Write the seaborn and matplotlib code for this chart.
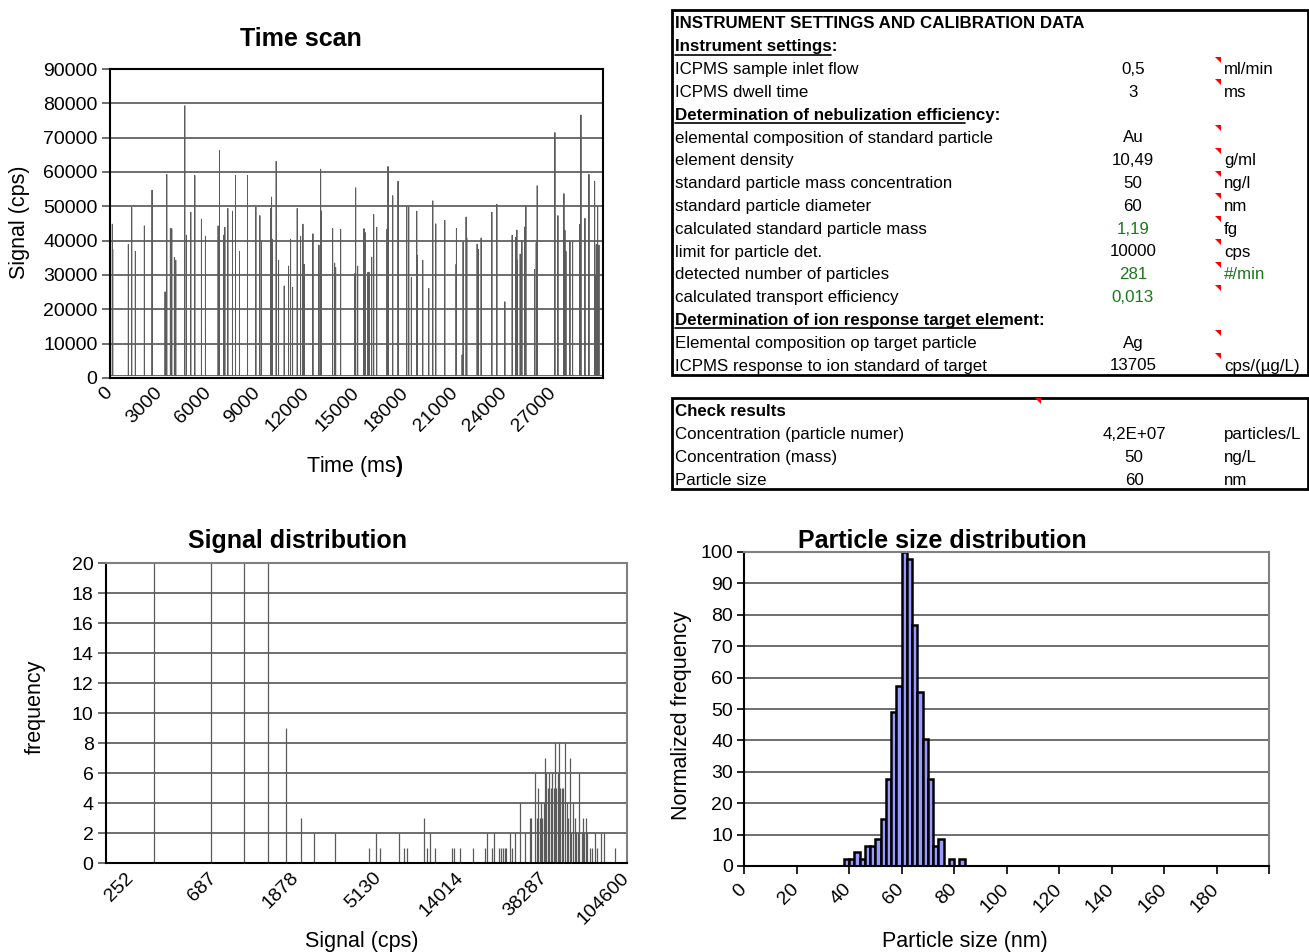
import numpy as np
import pandas as pd
import matplotlib
matplotlib.use("Agg")
import matplotlib.pyplot as plt
from matplotlib.lines import Line2D
from matplotlib.patches import Rectangle, Polygon
import seaborn as sns

# ---- time scan: spikes (ms, cps) ----
spike_time_ms = [142, 165, 1117, 1320, 1544, 2092, 2559, 3351, 3392, 3453, 3676, 3757, 3920, 4001,
                 4549, 4651, 4915, 5159, 5565, 5809, 6580, 6662, 6926, 6987, 7169, 7454, 7637, 7880,
                 8368, 8875, 9119, 9221, 9789, 9830, 9871, 10114, 10257, 10602, 10866, 10988, 11110,
                 11394, 11597, 11739, 11820, 12348, 12714, 12816, 12836, 13547, 13669, 13730, 14034,
                 14908, 14948, 15070, 15436, 15456, 15517, 15700, 15761, 15923, 16045, 16228, 16857,
                 16918, 17203, 17528, 18056, 18177, 18340, 18665, 18685, 19030, 19396, 19640, 19823,
                 20371, 21061, 21082, 21427, 21488, 21670, 21711, 22341, 22402, 22585, 23235, 23539,
                 24027, 24474, 24677, 24758, 24799, 24961, 25063, 25245, 25306, 25834, 25936, 25997,
                 27073, 27256, 27622, 27683, 27744, 27987, 28150, 28576, 28657, 28901, 29145, 29490,
                 29531, 29592, 29673, 29754]
spike_signal = [44800, 37500, 38900, 49700, 36900, 44300, 54700, 25100, 16000, 59300, 43500, 43500, 35100, 34300,
                79300, 41600, 48300, 59000, 46300, 41300, 44300, 66200, 41600, 43900, 49400, 48600, 59000, 36900,
                59000, 49800, 47300, 39800, 49400, 52700, 40400, 63100, 34300, 26800, 32600, 40400, 26400,
                49400, 41300, 44800, 33100, 42000, 38700, 60800, 48700, 43500, 33500, 32200, 43300,
                30500, 55400, 32600, 34300, 43500, 42400, 30800, 30800, 35200, 47600, 43900, 43300,
                61600, 53100, 57300, 50000, 49900, 29300, 48600, 35700, 34300, 26100, 51600, 44900,
                45900, 33100, 43500, 6700, 39700, 46900, 40800, 39000, 37500, 40800, 48300, 50600,
                22200, 41600, 40900, 43100, 34300, 36100, 40100, 44000, 50200, 31600, 39400, 56000,
                71500, 47300, 53700, 43000, 36900, 39800, 39700, 44700, 76600, 46500, 59300, 57300,
                29500, 38900, 49900, 38700]
background_cps = 700
dwell_ms = 3
scan_end_ms = 29997
time_ticks = list(range(0, 30000, 3000))

# ---- signal distribution (log-spaced bins) ----
signal_bins_cps = [333, 667, 1000, 1333, 1667, 2000, 2333, 3000, 4573, 4949, 5219, 6593, 6932, 7222,
                   8900, 9226, 9580, 10198, 12521, 12782, 13818, 16213, 18786, 19184, 20407, 20910,
                   22060, 22604, 23180, 23671, 24163, 25156, 25794, 26767, 28744, 30543, 32300, 32855,
                   34330, 35041, 35773, 36474, 37102, 37551, 38158, 38765, 39424, 40198, 40888, 41537,
                   42405, 43085, 43775, 44518, 45396, 46170, 46735, 47656, 48472, 49424, 50459, 51505,
                   52520, 53419, 54737, 55605, 56766, 57666, 58879, 60542, 61505, 62561, 63555, 64883,
                   66965, 68618, 70908, 72645, 76923, 79098, 91075]
signal_freq = [8000, 950, 120, 35, 9, 3, 2, 2, 1, 2, 1, 2, 1, 1,
               3, 1, 2, 1, 1, 1, 1, 1, 1, 2, 1, 2,
               1, 1, 1, 1, 1, 2, 1, 2, 4, 2, 3, 3,
               6, 3, 5, 3, 4, 3, 4, 7, 6, 5, 6, 5,
               6, 5, 8, 5, 6, 8, 5, 5, 5, 8, 4, 3,
               7, 2, 4, 3, 2, 2, 6, 2, 3, 2, 3, 2,
               1, 1, 2, 1, 2, 2, 1]
signal_ticks = [252, 687, 1878, 5130, 14014, 38287, 104600]

# ---- particle size distribution ----
size_bin_nm = [38, 40, 42, 44, 46, 48, 50, 52, 54, 56, 58, 60, 62, 64, 66, 68, 70, 72, 74, 76, 78, 80, 82]
size_norm_freq = [2.1, 2.1, 4.3, 2.1, 6.4, 6.4, 8.5, 14.9, 27.7, 48.9, 57.4, 100, 97.9, 76.6,
                  55.3, 40.4, 27.7, 6.4, 8.5, 0, 2.1, 0, 2.1]

# ---- tables ----
settings_labels = ["INSTRUMENT SETTINGS AND CALIBRATION DATA", "Instrument settings:",
                   "ICPMS sample inlet flow", "ICPMS dwell time",
                   "Determination of nebulization efficiency:",
                   "elemental composition of standard particle", "element density",
                   "standard particle mass concentration", "standard particle diameter",
                   "calculated standard particle mass", "limit for particle det.",
                   "detected number of particles", "calculated transport efficiency",
                   "Determination of ion response target element:",
                   "Elemental composition op target particle", "ICPMS response to ion standard of target"]
settings_values = ["", "", "0,5", "3", "", "Au", "10,49", "50", "60", "1,19", "10000", "281", "0,013",
                   "", "Ag", "13705"]
settings_units = ["", "", "ml/min", "ms", "", "", "g/ml", "ng/l", "nm", "fg", "cps", "#/min", "", "",
                  "", "cps/(µg/L)"]
heading_rows = [1, 4, 13]
green_rows = [9, 11, 12]
marker_rows = [2, 3, 5, 6, 7, 8, 9, 10, 11, 12, 14, 15]

check_labels = ["Check results", "Concentration (particle numer)", "Concentration (mass)", "Particle size"]
check_values = ["", "4,2E+07", "50", "60"]
check_units = ["", "particles/L", "ng/L", "nm"]

W, H = 1309, 952
sns.set_theme(style="white")
plt.rcParams["font.family"] = ["Liberation Sans", "DejaVu Sans"]
plt.rcParams["mathtext.fontset"] = "custom"
plt.rcParams["mathtext.rm"] = "Liberation Sans"
plt.rcParams["mathtext.bf"] = "Liberation Sans:bold"
for key in ["text.color", "axes.labelcolor", "xtick.color", "ytick.color"]:
    plt.rcParams[key] = "black"

fig = plt.figure(figsize=(W / 100, H / 100), dpi=100)


def box(x0, y0, x1, y1):
    return [x0 / W, 1 - y1 / H, (x1 - x0) / W, (y1 - y0) / H]


def ftext(x, y, s, **kw):
    fig.text(x / W, 1 - y / H, s, **kw)


grid_c = "#555555"
tick_fs = 14
lab_fs = 15.5
title_fs = 18

# ===== Time scan =====
ax1 = fig.add_axes(box(110, 69, 603, 378))
pts_t, pts_s = [0], [background_cps]
for t, s in sorted(zip(spike_time_ms, spike_signal)):
    pts_t += [t - dwell_ms, t, t + dwell_ms]
    pts_s += [background_cps, s, background_cps]
pts_t.append(scan_end_ms)
pts_s.append(background_cps)
scan = pd.DataFrame({"time": pts_t, "signal": pts_s})
sns.lineplot(data=scan, x="time", y="signal", ax=ax1, color="#5c5c5c", lw=0.7,
             sort=False, estimator=None)
ax1.set_xlim(0, 30000)
ax1.set_ylim(0, 90000)
ax1.set_yticks(range(0, 90001, 10000))
ax1.set_yticklabels([str(v) for v in range(0, 90001, 10000)])
ax1.set_xticks(time_ticks)
ax1.set_xticklabels([str(v) for v in time_ticks])
ax1.yaxis.grid(True, color=grid_c, lw=1.2)
ax1.xaxis.grid(False)
for sp in ax1.spines.values():
    sp.set_color("black")
    sp.set_linewidth(1.5)
ax1.tick_params(axis="y", length=6, width=1.2, color=grid_c, left=True, labelsize=tick_fs, pad=3)
ax1.tick_params(axis="x", length=0, labelsize=tick_fs, pad=9)
plt.setp(ax1.get_xticklabels(), rotation=45, ha="right", va="center", rotation_mode="anchor")
ax1.set_xlabel("")
ax1.set_ylabel("")

# ===== Signal distribution =====
ax2 = fig.add_axes(box(106, 563, 627, 863))
ax2.set_xscale("log")
ax2.vlines(signal_bins_cps, 0, signal_freq, color="#5a5a5a", lw=0.9)
ax2.set_xlim(186, 105000)
ax2.set_ylim(0, 20)
ax2.set_yticks(range(0, 21, 2))
ax2.set_xticks(signal_ticks)
ax2.set_xticklabels([str(v) for v in signal_ticks])
ax2.xaxis.set_minor_locator(matplotlib.ticker.NullLocator())
ax2.yaxis.grid(True, color=grid_c, lw=1.2)
ax2.xaxis.grid(False)
for name, sp in ax2.spines.items():
    sp.set_linewidth(1.5)
    sp.set_color("black" if name in ("left", "bottom") else "#808080")
ax2.tick_params(axis="y", length=6, width=1.2, color=grid_c, left=True, labelsize=tick_fs, pad=3)
ax2.tick_params(axis="x", length=0, labelsize=tick_fs, pad=9)
plt.setp(ax2.get_xticklabels(), rotation=45, ha="right", va="center", rotation_mode="anchor")

# ===== Particle size distribution =====
ax3 = fig.add_axes(box(744, 552, 1269, 866))
sizes = pd.DataFrame({"size": [b + 1 for b in size_bin_nm], "freq": size_norm_freq})
sns.histplot(data=sizes, x="size", weights="freq",
             bins=list(range(size_bin_nm[0], size_bin_nm[-1] + 3, 2)), ax=ax3,
             color="#9999FF", edgecolor="black", linewidth=1.8, alpha=1)
ax3.set_xlim(0, 200)
ax3.set_ylim(0, 100)
ax3.set_yticks(range(0, 101, 10))
ax3.set_xticks(range(0, 201, 20))
ax3.set_xticklabels([str(v) if v < 200 else "" for v in range(0, 201, 20)])
ax3.yaxis.grid(True, color=grid_c, lw=1.2)
ax3.xaxis.grid(False)
for name, sp in ax3.spines.items():
    sp.set_linewidth(1.5)
    sp.set_color("black" if name in ("left", "bottom") else "#808080")
ax3.tick_params(axis="y", length=5, width=1.2, color="black", left=True, labelsize=tick_fs, pad=3)
ax3.tick_params(axis="x", length=6, width=1.2, color="black", bottom=True, labelsize=tick_fs, pad=9)
plt.setp(ax3.get_xticklabels(), rotation=45, ha="right", va="center", rotation_mode="anchor")
ax3.set_xlabel("")
ax3.set_ylabel("")

# ===== titles and axis labels =====
ftext(301, 39, "Time scan", ha="center", va="center", fontsize=title_fs, fontweight="bold")
ftext(20, 222, "Signal (cps)", ha="center", va="center", rotation=90, fontsize=lab_fs)
ftext(355, 466, r"Time (ms$\mathbf{)}$", ha="center", va="center", fontsize=lab_fs)
ftext(298, 541, "Signal distribution", ha="center", va="center", fontsize=title_fs, fontweight="bold")
ftext(35, 707, "frequency", ha="center", va="center", rotation=90, fontsize=lab_fs)
ftext(362, 941, "Signal (cps)", ha="center", va="center", fontsize=lab_fs)
ftext(942, 541, "Particle size distribution", ha="center", va="center", fontsize=title_fs,
      fontweight="bold")
ftext(681, 716, "Normalized frequency", ha="center", va="center", rotation=90, fontsize=lab_fs)
ftext(965, 941, "Particle size (nm)", ha="center", va="center", fontsize=lab_fs)

# ===== tables =====
tab_fs = 12.2
green = "#1a7a1a"
fig.add_artist(Rectangle((672 / W, 1 - 375 / H), 636 / W, 365 / H, transform=fig.transFigure,
                         fill=False, edgecolor="black", lw=2))
fig.add_artist(Rectangle((672 / W, 1 - 489 / H), 636 / W, 91 / H, transform=fig.transFigure,
                         fill=False, edgecolor="black", lw=2))


def marker(x, y):
    fig.add_artist(Polygon([(x / W, 1 - y / H), ((x + 6) / W, 1 - y / H),
                            ((x + 6) / W, 1 - (y + 6) / H)], closed=True,
                           transform=fig.transFigure, color="#ff0000", lw=0))


row_y0, row_dy = 24, 22.8
for i, (lab, val, unit) in enumerate(zip(settings_labels, settings_values, settings_units)):
    y = row_y0 + i * row_dy
    bold = i == 0 or i in heading_rows
    ftext(675, y, lab, ha="left", va="center", fontsize=tab_fs,
          fontweight="bold" if bold else "normal")
    if i in heading_rows:
        txt_w = {1: 156, 4: 290, 13: 328}[i]
        fig.add_artist(Line2D([675 / W, (675 + txt_w) / W], [1 - (y + 8) / H] * 2,
                              transform=fig.transFigure, color="black", lw=1.2))
    col = green if i in green_rows else "black"
    ftext(1133, y, val, ha="center", va="center", fontsize=tab_fs, color=col)
    ftext(1224, y, unit, ha="left", va="center", fontsize=tab_fs,
          color=green if unit == "#/min" else "black")
    if i in marker_rows:
        marker(1215, y - 13)

marker(1035, 398)
for i, (lab, val, unit) in enumerate(zip(check_labels, check_values, check_units)):
    y = 412 + i * 22.7
    ftext(675, y, lab, ha="left", va="center", fontsize=tab_fs,
          fontweight="bold" if i == 0 else "normal")
    ftext(1134, y, val, ha="center", va="center", fontsize=tab_fs)
    ftext(1224, y, unit, ha="left", va="center", fontsize=tab_fs)

fig.savefig("out.png", dpi=100)
